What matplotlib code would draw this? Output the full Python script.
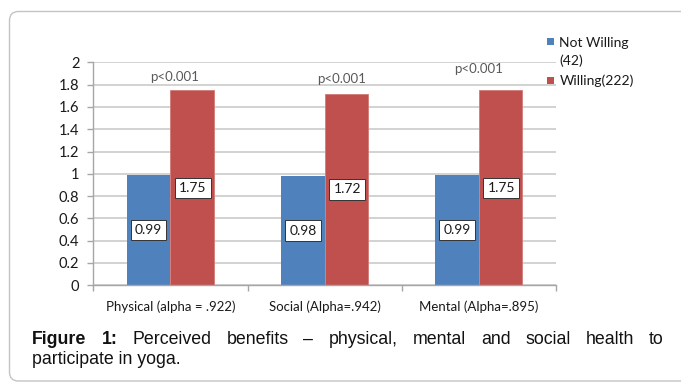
import matplotlib
matplotlib.use("Agg")
import matplotlib.pyplot as plt
from matplotlib.patches import FancyBboxPatch, Rectangle
import numpy as np

categories = ["Physical (alpha = .922)", "Social (Alpha=.942)", "Mental (Alpha=.895)"]
not_willing = [0.99, 0.98, 0.99]
willing = [1.75, 1.72, 1.75]
series_names = ["Not Willing\n(42)", "Willing(222)"]
p_labels = ["p<0.001", "p<0.001", "p<0.001"]
p_pos = [(0.03, 1.865), (1.11, 1.85), (2.0, 1.94)]
yticks = [0, 0.2, 0.4, 0.6, 0.8, 1, 1.2, 1.4, 1.6, 1.8, 2]

BLUE = "#4F81BD"
RED = "#C0504D"
INK = "#1a1a1a"
W, H = 681, 383


def fx(x):
    return x / W


def fy(y):
    return 1 - y / H


fig = plt.figure(figsize=(W / 100, H / 100), dpi=100)
fig.patch.set_facecolor("white")

# rounded frame around the figure
frame = FancyBboxPatch((9.5, 2), 700, H - 13.5, boxstyle="round,pad=0,rounding_size=9",
                       transform=None, fill=False, edgecolor="#c4c4c4", linewidth=1.0)
fig.patches.append(frame)

ax = fig.add_axes([fx(93.3), fy(285.3), fx(556 - 93.3), (285.3 - 62.3) / H])
x = np.arange(len(categories))
bw = 0.282
ax.bar(x - bw / 2, not_willing, bw, color=BLUE, zorder=2)
ax.bar(x + bw / 2, willing, bw, color=RED, edgecolor="#d07a78", linewidth=0.6, zorder=2)

box = dict(boxstyle="square,pad=0.3", facecolor="white", edgecolor="#333333", linewidth=0.7)
for i in range(len(categories)):
    ax.text(x[i] - bw / 2, not_willing[i] / 2, f"{not_willing[i]:.2f}", ha="center", va="center",
            fontsize=10, family="Lato", color=INK, bbox=box, zorder=3)
    ax.text(x[i] + bw / 2 + 0.005, willing[i] / 2, f"{willing[i]:.2f}", ha="center", va="center",
            fontsize=10, family="Lato", color=INK, bbox=box, zorder=3)
    ax.text(p_pos[i][0], p_pos[i][1], p_labels[i], ha="center", va="center",
            fontsize=9.5, family="Lato", color="#595959", zorder=3)

ax.set_xlim(-0.5, 2.5)
ax.set_ylim(0, 2)
ax.set_yticks(yticks)
ax.set_yticklabels([f"{t:g}" for t in yticks], fontsize=10.5, family="Lato", color=INK)
ax.yaxis.grid(True, color="#c6c6c6", linewidth=1.1, zorder=0)
ax.set_axisbelow(True)
ax.set_xticks(x)
ax.set_xticklabels(categories, fontsize=9.5, family="Lato", color=INK)
ax.set_xticks([-0.5, 0.5, 1.5, 2.5], minor=True)
ax.tick_params(axis="x", which="major", length=0, pad=11)
ax.tick_params(axis="x", which="minor", length=4, color="#a6a6a6", width=1)
ax.tick_params(axis="y", length=4, color="#a6a6a6", width=1, pad=6)
for side in ("top", "right"):
    ax.spines[side].set_visible(False)
for side in ("left", "bottom"):
    ax.spines[side].set_color("#a6a6a6")
    ax.spines[side].set_linewidth(1)

# legend
for (top, color), label, ty in zip([(38.3, BLUE), (77.3, RED)], series_names, [43, 80.7]):
    fig.patches.append(Rectangle((547.3, H - top - 7), 7, 7, transform=None,
                                 facecolor=color, edgecolor="none"))
    for k, line in enumerate(label.split("\n")):
        fig.text(fx(559.3), fy(ty + k * 17.7), line, ha="left", va="center",
                 fontsize=10, family="Lato", color=INK)

# caption, justified first line
line1 = [("Figure", "bold"), ("1:", "bold"), ("Perceived", "normal"), ("benefits", "normal"),
         ("–", "normal"), ("physical,", "normal"), ("mental", "normal"), ("and", "normal"),
         ("social", "normal"), ("health", "normal"), ("to", "normal")]
cap_kw = dict(fontsize=12.8, family="Liberation Sans", color="#111111", va="baseline", ha="left")
renderer = fig.canvas.get_renderer()
texts = []
widths = []
for word, weight in line1:
    t = fig.text(0, fy(344), word, fontweight=weight, **cap_kw)
    texts.append(t)
    widths.append(t.get_window_extent(renderer).width)
left, right = 32, 664
gap = (right - left - sum(widths)) / (len(texts) - 1)
pos = left
for t, w in zip(texts, widths):
    t.set_x(fx(pos))
    pos += w + gap
fig.text(fx(left), fy(364), "participate in yoga.", **cap_kw)

fig.savefig("out.png", dpi=100)
